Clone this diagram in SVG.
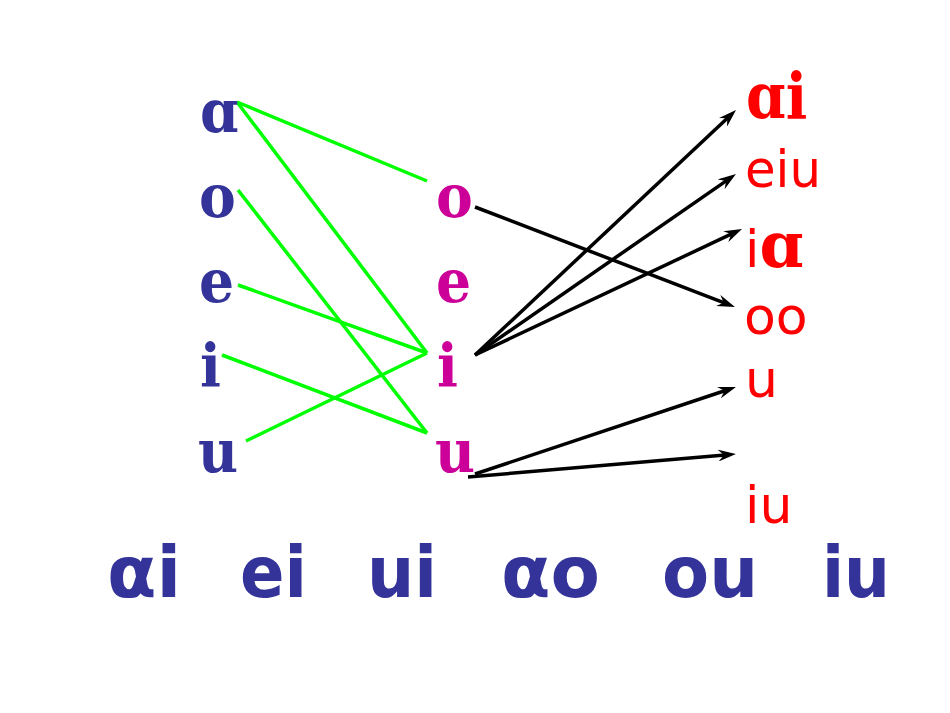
<svg xmlns="http://www.w3.org/2000/svg" width="950" height="713" viewBox="0 0 950 713">
<defs>
<style>
.l{font-family:"DejaVu Serif","Liberation Serif",serif;font-weight:bold;font-size:60px;fill:#333399}
.m{font-family:"DejaVu Serif","Liberation Serif",serif;font-weight:bold;font-size:60px;fill:#CC0099}
.rs{font-family:"DejaVu Serif","Liberation Serif",serif;font-weight:bold;font-size:63px;fill:#FF0000}
.r{font-family:"DejaVu Sans","Liberation Sans",sans-serif;font-size:52px;fill:#FF0000}
.b{font-family:"DejaVu Sans","Liberation Sans",sans-serif;font-weight:bold;font-size:72px;fill:#333399}
.g{stroke:#00FF00;stroke-width:3.5;fill:none}
.k{stroke:#000;stroke-width:3.5;fill:none;marker-end:url(#ah)}
</style>
<marker id="ah" markerUnits="userSpaceOnUse" viewBox="0 0 18 12" refX="10" refY="6" markerWidth="18" markerHeight="12" orient="auto">
<path d="M0,0 L18,6 L0,12 L6,6 Z" fill="#000"/>
</marker>
</defs>
<rect width="950" height="713" fill="#fff"/>
<g id="connectors">
<line class="g" x1="237" y1="102" x2="427" y2="181"/>
<line class="g" x1="237" y1="102" x2="427" y2="353"/>
<line class="g" x1="238" y1="190" x2="427" y2="433"/>
<line class="g" x1="238" y1="285" x2="427" y2="353"/>
<line class="g" x1="222" y1="355" x2="427" y2="433"/>
<line class="g" x1="246" y1="441" x2="427" y2="353"/>
<line class="k" x1="475" y1="207" x2="727.5" y2="304.1"/>
<line class="k" x1="475" y1="355" x2="730.2" y2="115.5"/>
<line class="k" x1="475" y1="355" x2="729.4" y2="178.6"/>
<line class="k" x1="475" y1="355" x2="734.8" y2="232.4"/>
<line class="k" x1="475" y1="474" x2="728.4" y2="389.5"/>
<line class="k" x1="468" y1="477" x2="728" y2="454.7"/>
</g>
<g id="left-a"><text class="l" transform="translate(200,132) scale(0.92,1)">ɑ</text></g>
<g id="left-o"><text class="l" transform="translate(199,217) scale(0.92,1)">o</text></g>
<g id="left-e"><text class="l" transform="translate(199,302) scale(0.92,1)">e</text></g>
<g id="left-i"><text class="l" transform="translate(200,387) scale(0.92,1)">i</text></g>
<g id="left-u"><text class="l" transform="translate(198,472) scale(0.92,1)">u</text></g>
<g id="mid-o"><text class="m" transform="translate(436,217) scale(0.92,1)">o</text></g>
<g id="mid-e"><text class="m" transform="translate(436,302) scale(0.92,1)">e</text></g>
<g id="mid-i"><text class="m" transform="translate(437,387) scale(0.92,1)">i</text></g>
<g id="mid-u"><text class="m" transform="translate(435,472) scale(0.92,1)">u</text></g>
<g id="res-ai"><text class="rs" transform="translate(746,118) scale(0.9,1)">ɑi</text></g>
<g id="res-eiu"><text class="r" x="745" y="187" textLength="76" lengthAdjust="spacingAndGlyphs">eiu</text></g>
<g id="res-ia"><text x="745" y="267"><tspan class="r">i</tspan><tspan class="rs">ɑ</tspan></text></g>
<g id="res-oo"><text class="r" x="744" y="334" font-size="54">oo</text></g>
<g id="res-u"><text class="r" x="745" y="397">u</text></g>
<g id="res-iu"><text class="r" x="745" y="523">iu</text></g>
<g id="bottom">
<text class="b" x="107" y="597">αi</text>
<text class="b" x="240" y="597" textLength="67" lengthAdjust="spacingAndGlyphs">ei</text>
<text class="b" x="367" y="597" textLength="70" lengthAdjust="spacingAndGlyphs">ui</text>
<text class="b" x="501" y="597">αo</text>
<text class="b" x="662" y="597" textLength="96" lengthAdjust="spacingAndGlyphs">ou</text>
<text class="b" x="822" y="597" textLength="68" lengthAdjust="spacingAndGlyphs">iu</text>
</g>
</svg>
